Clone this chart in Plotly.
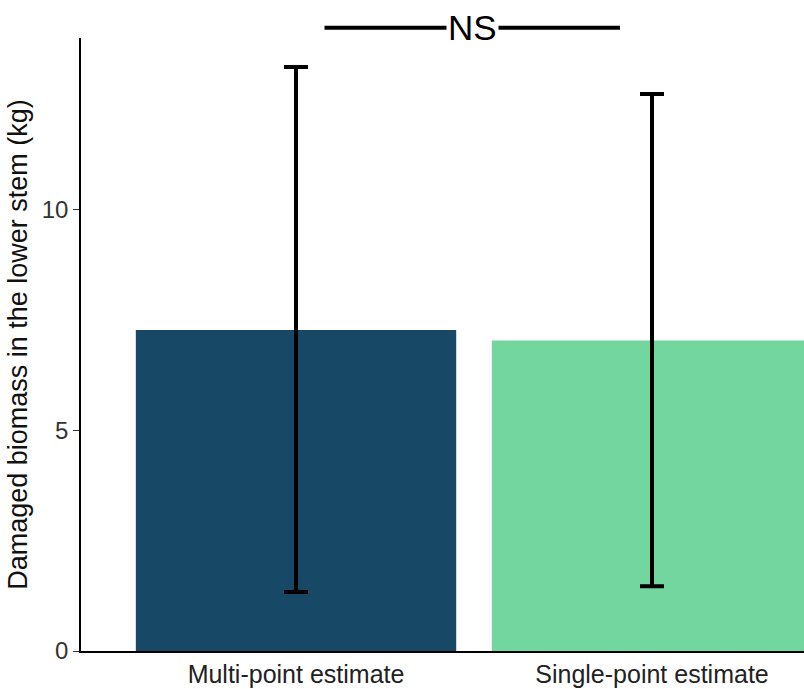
import plotly.graph_objects as go

categories = ["Multi-point estimate", "Single-point estimate"]
means = [7.28, 7.04]
upper = [13.24, 12.63]
lower = [1.34, 1.47]
colors = ["#174866", "#73D69F"]
y_ticks = [0, 5, 10]
sig_label = "NS"
sig_y = 14.13
sig_x = [0.08, 0.91]

y_max = 13.9

err_plus = [u - m for u, m in zip(upper, means)]
err_minus = [m - l for m, l in zip(means, lower)]

fig = go.Figure()
fig.add_trace(go.Bar(
    x=[0, 1], y=means, width=0.9,
    marker=dict(color=colors, line=dict(width=0)),
    error_y=dict(type="data", array=err_plus, arrayminus=err_minus,
                 color="black", thickness=4, width=12, symmetric=False),
    showlegend=False,
))

fig.update_layout(
    width=804, height=689,
    margin=dict(l=81, r=0, t=38, b=38),
    paper_bgcolor="white", plot_bgcolor="white",
    font=dict(family="Liberation Sans, Arial, sans-serif", color="#222"),
    xaxis=dict(range=[-0.604, 1.427], tickvals=[0, 1], ticktext=categories,
               showline=True, linecolor="black", linewidth=1.5,
               showgrid=False, zeroline=False, ticks="",
               tickfont=dict(size=25, color="#222")),
    yaxis=dict(range=[0, y_max], tickvals=y_ticks, showline=True,
               linecolor="black", linewidth=1.5, showgrid=False,
               zeroline=False, ticks="outside", ticklen=6, tickcolor="#333",
               tickfont=dict(size=24, color="#333"),
               title=dict(text="Damaged biomass in the lower stem (kg)",
                          font=dict(size=27, color="#111"), standoff=6)),
)

yp = sig_y / y_max
fig.add_shape(type="line", xref="x", yref="paper", x0=sig_x[0], x1=sig_x[1],
              y0=yp, y1=yp, line=dict(color="black", width=4))
fig.add_annotation(x=(sig_x[0] + sig_x[1]) / 2, y=yp, xref="x", yref="paper",
                   text=sig_label, showarrow=False, bgcolor="white",
                   font=dict(size=35, color="black"), borderpad=1,
                   yanchor="middle")

fig.write_html("out.html")
